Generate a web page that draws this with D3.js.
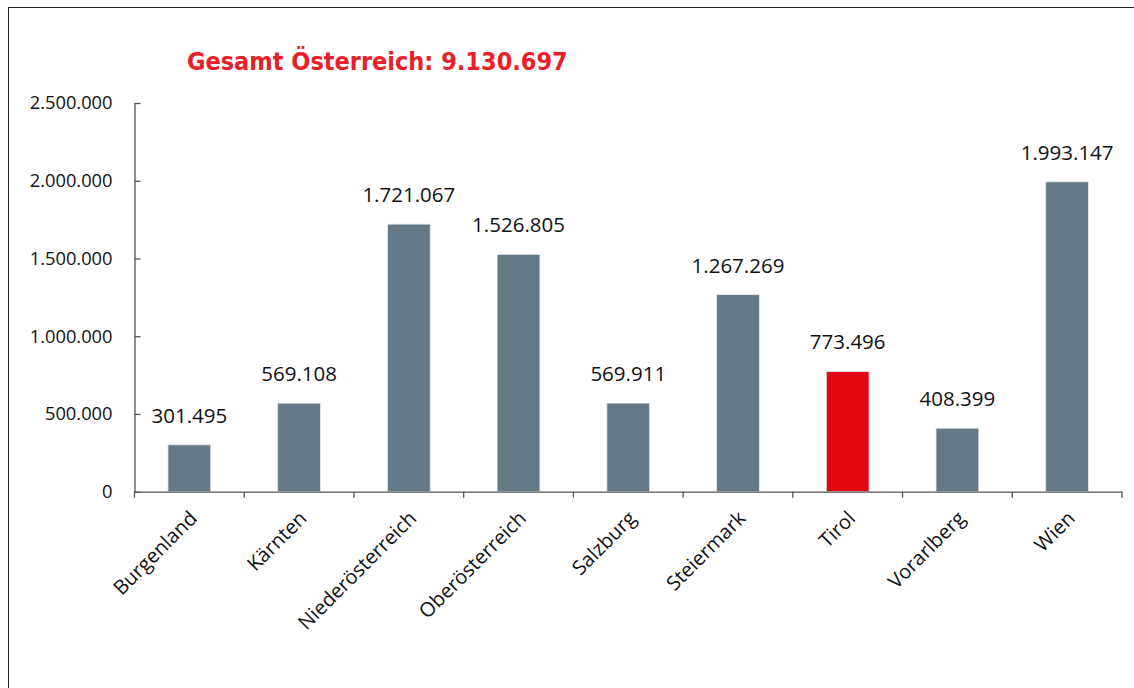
<!DOCTYPE html>
<html>
<head>
<meta charset="utf-8">
<script src="https://cdn.jsdelivr.net/npm/d3@7"></script>
<style>
  html, body { margin: 0; padding: 0; background: #fff; }
  svg { display: block; }
</style>
</head>
<body>
<svg id="chart" width="1134" height="688"></svg>
<script>
const categories = ["Burgenland", "Kärnten", "Niederösterreich", "Oberösterreich", "Salzburg", "Steiermark", "Tirol", "Vorarlberg", "Wien"];
const values = [301495, 569108, 1721067, 1526805, 569911, 1267269, 773496, 408399, 1993147];
const highlight = ["Tirol"];
const yTicks = [0, 500000, 1000000, 1500000, 2000000, 2500000];
const titleText = "Gesamt Österreich: 9.130.697";

(function () {
const svg = d3.select("#chart");
const W = 1134, H = 688;

// outer frame (right/bottom edges lie beyond the window)
svg.append("rect")
  .attr("x", 8.5).attr("y", 7.5)
  .attr("width", W + 20).attr("height", H + 20)
  .attr("fill", "none").attr("stroke", "#222").attr("stroke-width", 1);

const pLeft = 134.5, pRight = 1122, pTop = 103, pBottom = 491.7;

const x = d3.scaleBand().domain(categories).range([pLeft, pRight]).paddingInner(0.61).paddingOuter(0.305);
const y = d3.scaleLinear().domain([0, 2500000]).range([pBottom, pTop]);

const fmt = d3.formatLocale({ decimal: ",", thousands: ".", grouping: [3], currency: ["", "€"] }).format(",d");

// title
svg.append("text")
  .attr("x", 187).attr("y", 70)
  .attr("font-family", "'DejaVu Sans Condensed', 'DejaVu Sans', sans-serif")
  .attr("font-weight", "bold")
  .attr("font-size", 25)
  .attr("fill", "#e8202a")
  .text(titleText);

// bars
svg.append("g").selectAll("rect").data(categories).join("rect")
  .attr("x", d => x(d))
  .attr("y", (d, i) => y(values[i]))
  .attr("width", x.bandwidth())
  .attr("height", (d, i) => y(0) - y(values[i]))
  .attr("fill", d => highlight.includes(d) ? "#e30613" : "#647985")
  .attr("stroke", "#e6e9eb").attr("stroke-width", 0.8);

// value labels
svg.append("g").selectAll("text").data(categories).join("text")
  .attr("x", d => x(d) + x.bandwidth() / 2)
  .attr("y", (d, i) => y(values[i]) - 22)
  .attr("text-anchor", "middle")
  .attr("font-family", "'Open Sans', sans-serif")
  .attr("font-size", 20.5)
  .attr("fill", "#111")
  .text((d, i) => fmt(values[i]));

// y axis
const yAxis = d3.axisLeft(y).tickValues(yTicks).tickSizeInner(-6).tickSizeOuter(0).tickPadding(22)
  .tickFormat(d => fmt(d));
const gy = svg.append("g").attr("transform", `translate(${pLeft},0)`).call(yAxis);
gy.select(".domain").attr("stroke", "#555").attr("stroke-width", 1.3);
gy.selectAll(".tick line").attr("stroke", "#555").attr("stroke-width", 1.3);
gy.selectAll(".tick text")
  .attr("font-family", "'Open Sans', sans-serif")
  .attr("font-size", 18.3)
  .attr("fill", "#111");

// x axis
const xAxis = d3.axisBottom(x).tickSize(0).tickFormat("");
const gx = svg.append("g").attr("transform", `translate(0,${pBottom})`).call(xAxis);
gx.select(".domain").attr("stroke", "#555").attr("stroke-width", 1.3);
gx.selectAll(".tick").remove();
// category boundary ticks
const bounds = categories.map(c => x(c) - x.step() * x.paddingInner() / 2);
bounds.push(pRight);
gx.append("g").selectAll("line").data(bounds).join("line")
  .attr("x1", d => d).attr("x2", d => d)
  .attr("y1", 0).attr("y2", 6)
  .attr("stroke", "#555").attr("stroke-width", 1.3);

// category labels
svg.append("g").selectAll("text").data(categories).join("text")
  .attr("transform", d => `translate(${x(d) + x.bandwidth() / 2 + 4},${pBottom + 23}) rotate(-45)`)
  .attr("text-anchor", "end")
  .attr("dy", "0.35em")
  .attr("font-family", "'Open Sans', sans-serif")
  .attr("font-size", 20)
  .attr("fill", "#111")
  .text(d => d);
})();
</script>
</body>
</html>
